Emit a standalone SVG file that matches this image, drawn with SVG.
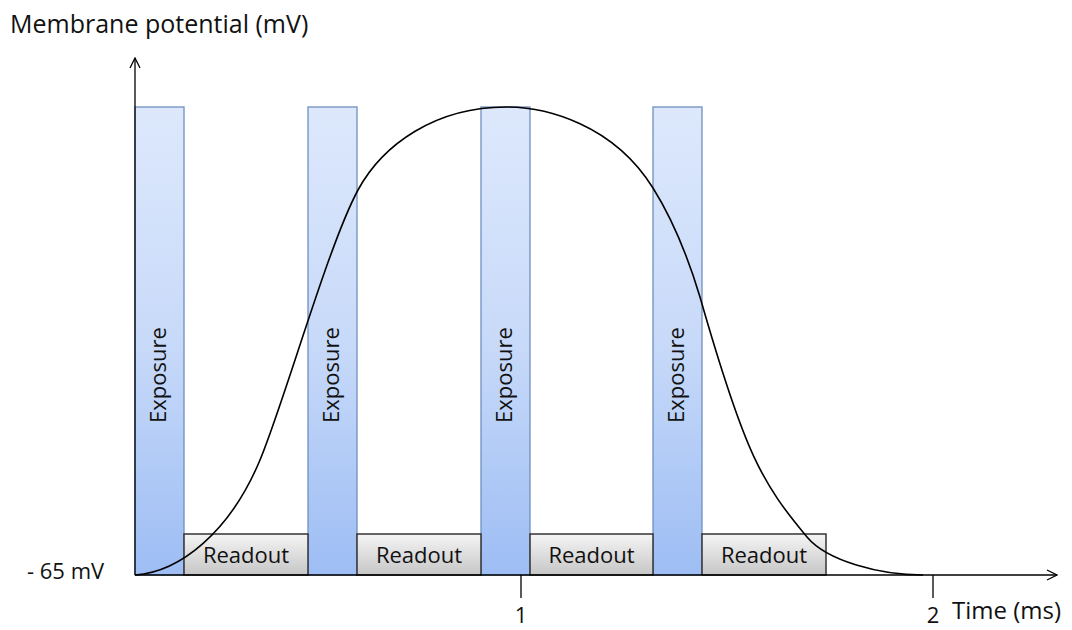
<svg xmlns="http://www.w3.org/2000/svg" width="1072" height="630" viewBox="0 0 1072 630">
<defs>
<linearGradient id="gExp" x1="0" y1="0" x2="0" y2="1">
<stop offset="0" stop-color="#dde8fc"/>
<stop offset="0.5" stop-color="#c8daf9"/>
<stop offset="1" stop-color="#9dbdf4"/>
</linearGradient>
<linearGradient id="gRead" x1="0" y1="0" x2="0" y2="1">
<stop offset="0" stop-color="#f5f5f5"/>
<stop offset="1" stop-color="#c6c6c6"/>
</linearGradient>
<marker id="arr" viewBox="0 0 12 12" refX="11" refY="6" markerWidth="12" markerHeight="12" markerUnits="userSpaceOnUse" orient="auto">
<path d="M1,1 L11,6 L1,11" fill="none" stroke="#000" stroke-width="1.3"/>
</marker>
</defs>
<style>
.exp{fill:url(#gExp);stroke:#6f90bd;stroke-width:1.3}
.rd{fill:url(#gRead);stroke:#333;stroke-width:1.5}
.t{font-family:"Open Sans","Liberation Sans",sans-serif;fill:#111}
.lbl{font-size:22px}
.ax{stroke:#000;stroke-width:1.3;fill:none}
</style>
<rect width="1072" height="630" fill="#fff"/>
<g id="exposure1"><rect class="exp" x="135" y="107" width="49" height="468"/><text class="t lbl" text-anchor="middle" transform="translate(166,375) rotate(-90)">Exposure</text></g>
<g id="exposure2"><rect class="exp" x="308" y="107" width="49" height="468"/><text class="t lbl" text-anchor="middle" transform="translate(339,375) rotate(-90)">Exposure</text></g>
<g id="exposure3"><rect class="exp" x="481" y="107" width="49" height="468"/><text class="t lbl" text-anchor="middle" transform="translate(512,375) rotate(-90)">Exposure</text></g>
<g id="exposure4"><rect class="exp" x="653" y="107" width="49" height="468"/><text class="t lbl" text-anchor="middle" transform="translate(684,375) rotate(-90)">Exposure</text></g>
<g id="readout1"><rect class="rd" x="184" y="534" width="124" height="41"/><text class="t lbl" x="246" y="563" text-anchor="middle">Readout</text></g>
<g id="readout2"><rect class="rd" x="357" y="534" width="124" height="41"/><text class="t lbl" x="419" y="563" text-anchor="middle">Readout</text></g>
<g id="readout3"><rect class="rd" x="530" y="534" width="123" height="41"/><text class="t lbl" x="591.5" y="563" text-anchor="middle">Readout</text></g>
<g id="readout4"><rect class="rd" x="702" y="534" width="124" height="41"/><text class="t lbl" x="764" y="563" text-anchor="middle">Readout</text></g>
<g id="connectors">
<line class="ax" x1="135" y1="575" x2="135" y2="58" marker-end="url(#arr)"/>
<line class="ax" x1="135" y1="575" x2="1057" y2="575" marker-end="url(#arr)"/>
<line class="ax" x1="521" y1="575" x2="521" y2="598"/>
<line class="ax" x1="933" y1="575" x2="933" y2="598"/>
<path id="potential-curve" fill="none" stroke="#000" stroke-width="1.6" d="M135,575 C180,572 230,532 260,460 C285,400 328,245.5 358,190 C383,144 436,107 506,107 C546,107 613,124 653,188 C668,212 685,247 700,297 C745,454.5 762,483 807,537 C827,561 880,575 923,575"/>
</g>
<g id="labels">
<text class="t" x="10" y="33" font-size="25">Membrane potential (mV)</text>
<text class="t lbl" x="27" y="579">- 65 mV</text>
<text class="t lbl" x="521" y="623" text-anchor="middle">1</text>
<text class="t lbl" x="933" y="623" text-anchor="middle">2</text>
<text class="t" x="952" y="619" font-size="24">Time (ms)</text>
</g>
</svg>
